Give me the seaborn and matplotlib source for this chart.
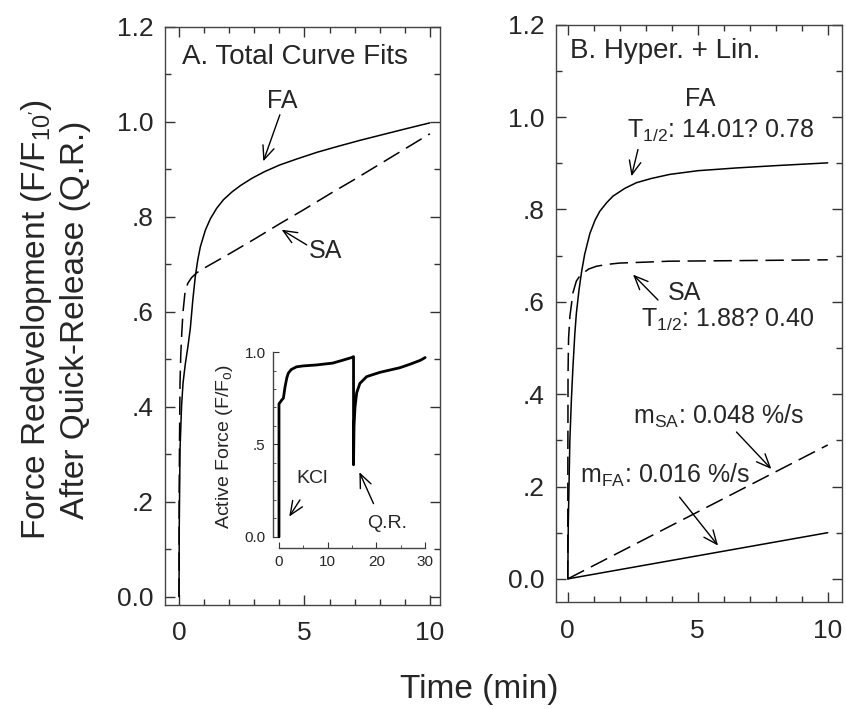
import pandas as pd
import seaborn as sns
import matplotlib.pyplot as plt
from matplotlib.ticker import MultipleLocator

# Panel A: ajustes de curva total
fa_a_x = [0, 0.01, 0.04, 0.1, 0.16, 0.25, 0.35, 0.45, 0.55, 0.65, 0.75, 0.85, 1.05, 1.25, 1.5, 1.77,
          2.1, 2.45, 2.9, 3.4, 4.0, 4.7, 5.5, 6.3, 7.2, 8.1, 9.0, 10]
fa_a_y = [0, 0.15, 0.31, 0.40, 0.45, 0.49, 0.525, 0.565, 0.625, 0.675, 0.71, 0.737, 0.772, 0.796,
          0.818, 0.836, 0.852, 0.866, 0.881, 0.895, 0.909, 0.922, 0.936, 0.948, 0.961, 0.973,
          0.985, 0.998]
sa_a_x = [0, 0.005, 0.02, 0.04, 0.07, 0.11, 0.16, 0.24, 0.35, 0.5, 0.7, 1, 2, 3, 4, 5, 6, 7, 8, 9, 10]
sa_a_y = [0, 0.2, 0.33, 0.45, 0.51, 0.556, 0.6, 0.642, 0.66, 0.672, 0.682, 0.692, 0.722, 0.753,
          0.785, 0.816, 0.848, 0.879, 0.911, 0.943, 0.975]

# Inset: traza de fuerza activa
ins_x = [0, 0, 0.3, 0.55, 0.9, 1.23, 1.6, 1.9, 2.5, 3.6, 5, 7.7, 11, 13, 14.9, 15.3, 15.3, 15.4,
         15.6, 15.95, 16.6, 18, 20.7, 24.8, 27, 29, 30]
ins_y = [0, 0.72, 0.73, 0.74, 0.75, 0.81, 0.86, 0.885, 0.905, 0.92, 0.925, 0.93, 0.94, 0.955, 0.97,
         0.975, 0.39, 0.6, 0.7, 0.78, 0.83, 0.867, 0.89, 0.915, 0.935, 0.955, 0.97]

# Panel B: hiperbola + lineal
fa_b_x = [0, 0.02, 0.08, 0.14, 0.2, 0.27, 0.33, 0.43, 0.53, 0.65, 0.85, 1.05, 1.23, 1.5, 1.74,
          2.2, 2.64, 3.2, 3.92, 5, 6.49, 8, 10]
fa_b_y = [0, 0.12, 0.3, 0.39, 0.46, 0.53, 0.575, 0.625, 0.665, 0.703, 0.748, 0.777, 0.796, 0.815,
          0.829, 0.846, 0.858, 0.867, 0.876, 0.884, 0.89, 0.895, 0.901]
sa_b_x = [0, 0.003, 0.01, 0.03, 0.08, 0.2, 0.33, 0.45, 0.59, 0.8, 1.1, 1.5, 2, 3, 3.9, 6, 8, 10]
sa_b_y = [0, 0.25, 0.445, 0.52, 0.568, 0.62, 0.645, 0.655, 0.662, 0.671, 0.677, 0.681, 0.684,
          0.686, 0.688, 0.689, 0.69, 0.691]
lin_x = [0, 10]
lin_fa_y = [0, 0.1]
lin_sa_y = [0, 0.29]

y_ticks = [0, 0.2, 0.4, 0.6, 0.8, 1.0, 1.2]
y_labels = ["0.0", ".2", ".4", ".6", ".8", "1.0", "1.2"]

sns.set_style("ticks")
plt.rcParams['font.family'] = ['Liberation Sans', 'DejaVu Sans']
plt.rcParams['mathtext.fontset'] = 'custom'
plt.rcParams['mathtext.rm'] = 'Liberation Sans'
plt.rcParams['mathtext.it'] = 'Liberation Sans'
plt.rcParams['mathtext.default'] = 'regular'

fig = plt.figure(figsize=(8.46, 7.09), dpi=100)
axA = fig.add_axes([0.195, 0.147, 0.325, 0.815])
axB = fig.add_axes([0.657, 0.151, 0.338, 0.814])
axI = fig.add_axes([0.3223, 0.2271, 0.1883, 0.2863])

dash = (0, (12, 5))
arrow = dict(arrowstyle='->,head_length=0.7,head_width=0.3', lw=1.0, color='k',
             mutation_scale=14, shrinkA=0, shrinkB=0)


def curve(ax, x, y, ls='-', lw=1.1):
    sns.lineplot(x=x, y=y, ax=ax, color='k', lw=lw, linestyle=ls,
                 estimator=None, sort=False, errorbar=None)


def style_main(ax, xlim, ylim):
    ax.set_xlim(*xlim)
    ax.set_ylim(*ylim)
    ax.set_xticks([0, 5, 10])
    ax.set_xticklabels(["0", "5", "10"])
    ax.set_yticks(y_ticks)
    ax.set_yticklabels(y_labels)
    ax.xaxis.set_minor_locator(MultipleLocator(1))
    ax.yaxis.set_minor_locator(MultipleLocator(0.1))
    ax.tick_params(which='both', direction='in', top=True, right=True, width=1, color='#333333')
    ax.tick_params(which='major', length=7, labelsize=19)
    ax.tick_params(axis='x', which='major', pad=12)
    ax.tick_params(axis='y', which='major', pad=8)
    ax.tick_params(which='minor', length=4)
    for s in ax.spines.values():
        s.set_visible(True)
        s.set_linewidth(1.0)
        s.set_color('#444444')


# Panel A
curve(axA, fa_a_x, fa_a_y)
curve(axA, sa_a_x, sa_a_y, ls=dash)
style_main(axA, (-0.56, 10.4), (-0.017, 1.2))
axA.text(0.12, 1.137, "A. Total Curve Fits", fontsize=20, ha='left', va='center')
axA.text(4.1, 1.045, "FA", fontsize=18, ha='center', va='center')
axA.annotate('', xy=(3.36, 0.917), xytext=(4.02, 1.015), arrowprops=arrow)
axA.text(5.85, 0.728, "SA", fontsize=18, ha='center', va='center')
axA.annotate('', xy=(4.09, 0.773), xytext=(5.09, 0.741), arrowprops=arrow)

# Inset
curve(axI, ins_x, ins_y, lw=2.0)
axI.set_xlim(-1.3, 31.4)
axI.set_ylim(-0.06, 1.038)
axI.patch.set_alpha(0)
for side in ['top', 'right']:
    axI.spines[side].set_visible(False)
axI.spines['left'].set_bounds(0, 1.0)
axI.spines['bottom'].set_bounds(0, 30)
for side in ['left', 'bottom']:
    axI.spines[side].set_linewidth(1.0)
    axI.spines[side].set_color('#444444')
axI.set_xticks([0, 10, 20, 30])
axI.set_yticks([0, 0.5, 1.0])
axI.set_yticklabels(["0.0", ".5", "1.0"])
axI.xaxis.set_minor_locator(MultipleLocator(5))
axI.yaxis.set_minor_locator(MultipleLocator(0.1))
axI.tick_params(which='both', direction='in', color='#333333')
axI.tick_params(which='major', length=4, labelsize=11, pad=5)
axI.tick_params(which='minor', length=2.5)
axI.set_ylabel("Active Force (F/F$_o$)", fontsize=14, labelpad=7)
axI.text(6.7, 0.317, "KCl", fontsize=14, ha='center', va='center')
axI.annotate('', xy=(2.1, 0.11), xytext=(4.3, 0.2), arrowprops=arrow)
axI.text(22.1, 0.074, "Q.R.", fontsize=14, ha='center', va='center')
axI.annotate('', xy=(16.5, 0.35), xytext=(19.4, 0.18), arrowprops=arrow)

# Panel B
curve(axB, fa_b_x, fa_b_y)
curve(axB, sa_b_x, sa_b_y, ls=dash)
curve(axB, lin_x, lin_fa_y)
curve(axB, lin_x, lin_sa_y, ls=dash)
style_main(axB, (-0.46, 10.54), (-0.05, 1.2))
axB.text(0.08, 1.143, "B. Hyper. + Lin.", fontsize=20, ha='left', va='center')
axB.text(5.08, 1.04, "FA", fontsize=18, ha='center', va='center')
axB.text(2.26, 0.97, "T$_{1/2}$: 14.01? 0.78", fontsize=18, ha='left', va='center')
axB.annotate('', xy=(2.45, 0.872), xytext=(2.7, 0.93), arrowprops=arrow)
axB.text(4.5, 0.619, "SA", fontsize=18, ha='center', va='center')
axB.annotate('', xy=(2.51, 0.659), xytext=(3.47, 0.604), arrowprops=arrow)
axB.text(2.83, 0.561, "T$_{1/2}$: 1.88? 0.40", fontsize=18, ha='left', va='center')
axB.text(2.51, 0.351, "m$_{SA}$: 0.048 %/s", fontsize=18, ha='left', va='center')
axB.annotate('', xy=(7.83, 0.238), xytext=(6.49, 0.318), arrowprops=arrow)
axB.text(0.46, 0.224, "m$_{FA}$: 0.016 %/s", fontsize=18, ha='left', va='center')
axB.annotate('', xy=(5.78, 0.072), xytext=(4.3, 0.177), arrowprops=arrow)

fig.text(0.065, 0.549, "Force Redevelopment (F/F$_{10'}$)\nAfter Quick-Release (Q.R.)",
         rotation=90, fontsize=24, ha='center', va='center', linespacing=1.25)
fig.text(0.567, 0.027, "Time (min)", fontsize=24, ha='center', va='center')

fig.savefig("out.png", dpi=100, facecolor='white')
